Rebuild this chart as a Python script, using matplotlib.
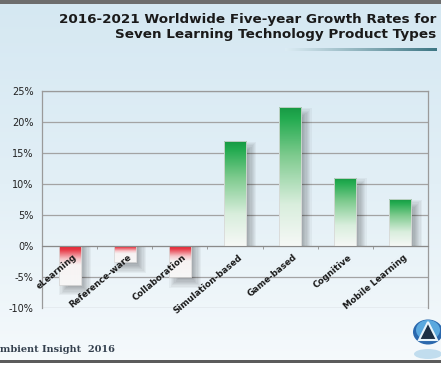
import matplotlib.pyplot as plt
import numpy as np
from matplotlib.colors import LinearSegmentedColormap
from matplotlib.patches import Circle, Ellipse, Polygon, Rectangle

# data
categories = ['eLearning', 'Reference-ware', 'Collaboration', 'Simulation-based',
              'Game-based', 'Cognitive', 'Mobile Learning']
growth = [-6.3, -2.7, -5.1, 16.9, 22.3, 11.0, 7.5]
yticks = [-10, -5, 0, 5, 10, 15, 20, 25]
title = '2016-2021 Worldwide Five-year Growth Rates for\nSeven Learning Technology Product Types'
footer = 'mbient Insight  2016'

W, H = 441, 368
fig = plt.figure(figsize=(W / 100, H / 100), dpi=100)

# background gradient for whole figure
bg = fig.add_axes([0, 0, 1, 1], zorder=-10)
grad = np.linspace(0, 1, 256).reshape(-1, 1)
bg_cmap = LinearSegmentedColormap.from_list('bg', ['#d5e8f2', '#e2eff6', '#f6fafc'])
bg.imshow(grad, aspect='auto', cmap=bg_cmap, extent=[0, 1, 0, 1], origin='upper')
bg.set_xlim(0, 1)
bg.set_ylim(0, 1)
bg.axis('off')
# frame lines top / bottom
bg.add_patch(Rectangle((0, 1 - 4 / H), 1, 4 / H, color='#6d6d6d', lw=0))
bg.add_patch(Rectangle((0, 0), 1, 5 / H, color='#ffffff', lw=0))
bg.add_patch(Rectangle((0, 5 / H), 1, 3 / H, color='#5c5c5c', lw=0))
# title underline, fading in from the left
ul = np.linspace(0, 1, 256).reshape(1, -1)
ul_cmap = LinearSegmentedColormap.from_list('ul', ['#dcecf4', '#8fb3bd', '#3d7683'])
bg.imshow(ul, aspect='auto', cmap=ul_cmap, extent=[285 / W, 437 / W, 1 - 51.5 / H, 1 - 49 / H])

fig.text(436 / W, 1 - 13 / H, title, ha='right', va='top', fontsize=9.7,
         fontweight='bold', color='#1a1a1a', linespacing=1.2)
fig.text(0.5 / W, 1 - 350 / H, footer, ha='left', va='center', fontsize=7,
         fontweight='bold', family='DejaVu Serif', color='#34404e')

# logo with reflection
cx, cy = 428 / W, 1 - 332 / H
bg.add_patch(Ellipse((cx, 1 - 354 / H), 28 / W, 10 / H, color='#8fc3e3', alpha=0.5, lw=0))
bg.add_patch(Circle((cx, cy), 15 / W, color='#2a68ad', lw=0))
bg.add_patch(Circle((cx, cy + 2 / H), 12 / W, color='#5aa8de', lw=0))
bg.add_patch(Polygon([(cx, cy + 10 / H), (cx - 9 / W, cy - 8 / H), (cx + 9 / W, cy - 8 / H)],
                     closed=True, fc='#1c2f45', ec='#e8f4fb', lw=1.5))

ax = fig.add_axes([42 / W, 1 - 307.7 / H, 386 / W, 217 / H])
ax.patch.set_alpha(0)
x = np.arange(len(categories))

bars = ax.bar(x, growth, width=0.4, color='none', zorder=3)

green_cmap = LinearSegmentedColormap.from_list(
    'g', [(0, '#f6f8f6'), (0.3, '#d9eedd'), (0.65, '#7fcb8f'), (0.92, '#23ab50'), (1, '#179a44')])
red_cmap = LinearSegmentedColormap.from_list(
    'r', [(0, '#e2202e'), (0.12, '#e83a47'), (0.35, '#f6c8cb'), (0.5, '#f7f3f3'), (1, '#f7f7f7')])
for b, v in zip(bars, growth):
    bx, bw = b.get_x(), b.get_width()
    y0, y1 = min(0, v), max(0, v)
    # soft shadow, offset down-right, kept on the bar's side of the zero line
    dx, dy = 0.1, 0.9
    for k in range(9):
        s = (k - 4) * 0.022
        sv = (k - 4) * 0.2
        left, right = bx + dx + s, bx + bw + dx - s
        if v >= 0:
            bot, top = y0, y1 - dy - sv
        else:
            bot, top = y0 - dy + sv, y1
        if top > bot:
            ax.add_patch(Rectangle((left, bot), right - left, top - bot,
                                   color='#000000', alpha=0.04, lw=0, zorder=2))
    g = np.linspace(0, 1, 200).reshape(-1, 1)
    if v >= 0:
        im = ax.imshow(g, cmap=green_cmap, aspect='auto', origin='lower',
                       extent=[bx, bx + bw, y0, y1], zorder=3)
    else:
        im = ax.imshow(g, cmap=red_cmap, aspect='auto', origin='upper',
                       extent=[bx, bx + bw, y0, y1], zorder=3)
    im.set_clip_path(b)
    ax.add_patch(Rectangle((bx, y0), bw, y1 - y0, fill=False, ec='#d8d8d8', lw=0.6, zorder=4))

ax.set_xlim(-0.5, len(categories) - 0.5)
ax.set_ylim(-10, 25)
ax.set_yticks(yticks)
ax.set_yticklabels([f'{t}%' for t in yticks], fontsize=7, color='#222222')
ax.yaxis.grid(True, color='#a3a3a3', lw=0.9, zorder=0)
ax.tick_params(axis='y', length=0, pad=6)

ax.spines['bottom'].set_position(('data', 0))
ax.spines['bottom'].set_color('#8a8a8a')
ax.spines['bottom'].set_zorder(5)
for s in ['left', 'right', 'top']:
    ax.spines[s].set_color('#9a9a9a')
    ax.spines[s].set_linewidth(0.9)
ax.set_xticks(x)
ax.set_xticklabels([])
ax.set_xticks(np.arange(len(categories) + 1) - 0.5, minor=True)
ax.tick_params(axis='x', which='major', length=0)
ax.tick_params(axis='x', which='minor', length=2.5, color='#8a8a8a')
for xi, lab in zip(x, categories):
    ax.annotate(lab, (xi, 0), xytext=(2, -5), textcoords='offset points',
                rotation=40, ha='right', va='top', rotation_mode='anchor',
                fontsize=6.3, fontweight='bold', color='#1a1a1a', zorder=5)

fig.savefig('out.png', dpi=100)
